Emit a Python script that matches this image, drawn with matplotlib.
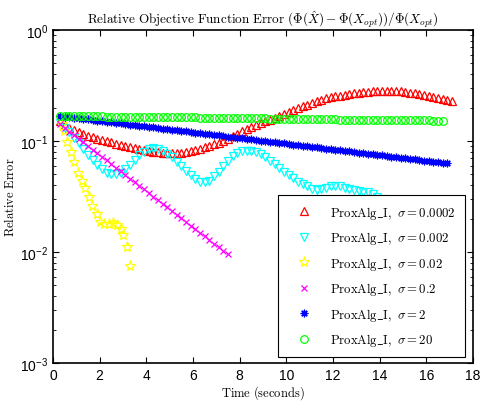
import matplotlib
matplotlib.use('Agg')
import matplotlib.pyplot as plt
from matplotlib.ticker import LogLocator, NullFormatter

plt.rcParams['font.family'] = ['Liberation Sans', 'DejaVu Sans']

# shared time samples (seconds)
t = [0.3, 0.5, 0.7, 0.9, 1.1, 1.3, 1.5, 1.7, 1.9, 2.1, 2.3, 2.5, 2.7, 2.9, 3.1,
     3.3, 3.5, 3.7, 3.9, 4.1, 4.3, 4.5, 4.7, 4.9, 5.1, 5.3, 5.5, 5.7, 5.9, 6.1,
     6.3, 6.5, 6.7, 6.9, 7.1, 7.3, 7.5, 7.7, 7.9, 8.1, 8.3, 8.5, 8.7, 8.9, 9.1,
     9.3, 9.5, 9.7, 9.9, 10.1, 10.3, 10.5, 10.7, 10.9, 11.1, 11.3, 11.5, 11.7,
     11.9, 12.1, 12.3, 12.5, 12.7, 12.9, 13.1, 13.3, 13.5, 13.7, 13.9, 14.1,
     14.3, 14.5, 14.7, 14.9, 15.1, 15.3, 15.5, 15.7, 15.9, 16.1, 16.3, 16.5,
     16.7, 16.9, 17.1]

err_0002 = [0.150, 0.140, 0.132, 0.126, 0.120, 0.116, 0.112, 0.108, 0.105, 0.102,
            0.099, 0.097, 0.094, 0.092, 0.090, 0.088, 0.086, 0.084, 0.083, 0.081,
            0.080, 0.079, 0.0785, 0.078, 0.078, 0.078, 0.078, 0.079, 0.081, 0.083,
            0.085, 0.088, 0.090, 0.093, 0.096, 0.100, 0.105, 0.110, 0.116, 0.122,
            0.128, 0.134, 0.139, 0.144, 0.150, 0.156, 0.162, 0.168, 0.175, 0.183,
            0.191, 0.198, 0.205, 0.213, 0.221, 0.228, 0.236, 0.242, 0.247, 0.252,
            0.256, 0.261, 0.266, 0.270, 0.273, 0.276, 0.279, 0.281, 0.282, 0.283,
            0.284, 0.283, 0.282, 0.280, 0.277, 0.273, 0.269, 0.265, 0.260, 0.255,
            0.251, 0.246, 0.241, 0.236, 0.231]

err_002 = [0.145, 0.132, 0.120, 0.107, 0.095, 0.085, 0.075, 0.067, 0.061, 0.056,
           0.052, 0.050, 0.050, 0.052, 0.056, 0.061, 0.067, 0.074, 0.080, 0.084,
           0.086, 0.085, 0.082, 0.077, 0.071, 0.065, 0.059, 0.054, 0.049, 0.045,
           0.043, 0.0425, 0.044, 0.048, 0.053, 0.059, 0.066, 0.073, 0.078, 0.081,
           0.082, 0.082, 0.080, 0.076, 0.071, 0.066, 0.062, 0.057, 0.053, 0.049,
           0.046, 0.043, 0.041, 0.039, 0.037, 0.0365, 0.037, 0.038, 0.039, 0.0395,
           0.039, 0.038, 0.037, 0.036, 0.0355, 0.035, 0.0345, 0.033, 0.031, 0.030,
           0.029, 0.028, 0.0275, 0.027, 0.0265]

t_02 = [0.37, 0.47, 0.59, 0.77, 0.91, 1.09, 1.23, 1.37, 1.54, 1.69,
        1.87, 2.01, 2.20, 2.41, 2.59, 2.76, 2.90, 3.01, 3.16, 3.30]
err_02 = [0.142, 0.124, 0.0986, 0.079, 0.064, 0.052, 0.044, 0.0375, 0.0316, 0.0261,
          0.022, 0.0188, 0.0179, 0.0179, 0.0182, 0.0175, 0.0161, 0.0142, 0.011, 0.0075]

err_2 = [0.141, 0.131, 0.121, 0.113, 0.105, 0.0970, 0.0900, 0.0835, 0.0775, 0.0719,
         0.0667, 0.0619, 0.0574, 0.0533, 0.0494, 0.0459, 0.0426, 0.0395, 0.0366,
         0.0340, 0.0315, 0.0293, 0.0271, 0.0252, 0.0234, 0.0217, 0.0201, 0.0187,
         0.0173, 0.0161, 0.0149, 0.0138, 0.0128, 0.0119, 0.0110, 0.0102, 0.0095]

err_20 = [0.1680, 0.1660, 0.1640, 0.1621, 0.1602, 0.1583, 0.1564, 0.1546, 0.1528,
          0.1510, 0.1492, 0.1474, 0.1457, 0.1440, 0.1423, 0.1406, 0.1389, 0.1373,
          0.1357, 0.1341, 0.1325, 0.1309, 0.1294, 0.1278, 0.1263, 0.1248, 0.1234,
          0.1219, 0.1205, 0.1191, 0.1177, 0.1163, 0.1149, 0.1135, 0.1122, 0.1109,
          0.1096, 0.1083, 0.1070, 0.1057, 0.1045, 0.1033, 0.1020, 0.1008, 0.0996,
          0.0985, 0.0973, 0.0962, 0.0950, 0.0939, 0.0928, 0.0917, 0.0906, 0.0895,
          0.0885, 0.0874, 0.0864, 0.0854, 0.0844, 0.0834, 0.0824, 0.0814, 0.0805,
          0.0795, 0.0786, 0.0776, 0.0767, 0.0758, 0.0749, 0.0740, 0.0732, 0.0723,
          0.0715, 0.0706, 0.0698, 0.0689, 0.0681, 0.0673, 0.0665, 0.0657, 0.0650,
          0.0642, 0.0634, 0.0627]

err_200 = [0.168, 0.168, 0.168, 0.168, 0.168, 0.167, 0.167, 0.167, 0.167, 0.167,
           0.166, 0.166, 0.166, 0.166, 0.166, 0.165, 0.165, 0.165, 0.165, 0.165,
           0.164, 0.164, 0.164, 0.164, 0.164, 0.163, 0.163, 0.163, 0.163, 0.163,
           0.162, 0.162, 0.162, 0.162, 0.162, 0.161, 0.161, 0.161, 0.161, 0.161,
           0.160, 0.160, 0.160, 0.160, 0.160, 0.159, 0.159, 0.159, 0.159, 0.159,
           0.158, 0.158, 0.158, 0.158, 0.158, 0.157, 0.157, 0.157, 0.157, 0.157,
           0.156, 0.156, 0.156, 0.156, 0.156, 0.155, 0.155, 0.155, 0.155, 0.155,
           0.154, 0.154, 0.154, 0.154, 0.154, 0.153, 0.153, 0.153, 0.153, 0.153,
           0.152, 0.152, 0.152]

labels = ['0.0002', '0.002', '0.02', '0.2', '2', '20']

fig = plt.figure(figsize=(4.84, 4.02), dpi=100)
ax = fig.add_axes([0.1095, 0.0945, 0.8675, 0.8285])

mk = dict(linestyle='none', markerfacecolor='none', markeredgewidth=0.9)
ax.semilogy(t[:len(err_0002)], err_0002, marker='^', color='#ff0000', markersize=5.5,
            label=labels[0], **mk)
ax.semilogy(t[:len(err_002)], err_002, marker='v', color='#00ffff', markersize=5.5,
            label=labels[1], **mk)
ax.semilogy(t_02, err_02, marker='*', color='#ffff00', markersize=8,
            label=labels[2], **mk)
ax.semilogy(t[:len(err_2)], err_2, marker='x', color='#ff00ff', markersize=4.5,
            label=labels[3], **mk)
ax.semilogy(t[:len(err_20)], err_20, marker=(8, 2, 0), color='#0000ff', markersize=5.5,
            label=labels[4], **mk)
ax.semilogy(t[:len(err_200)], err_200, marker='o', color='#00ff00', markersize=5.5,
            label=labels[5], **mk)

ax.set_xlim(0, 18)
ax.set_ylim(1e-3, 1)
ax.set_xticks(range(0, 19, 2))
ax.yaxis.set_minor_locator(LogLocator(base=10, subs=range(2, 10)))
ax.yaxis.set_minor_formatter(NullFormatter())
ax.tick_params(which='both', direction='in', top=True, right=True, labelsize=10)
ax.tick_params(which='major', length=4)
ax.tick_params(which='minor', length=2)
for s in ax.spines.values():
    s.set_linewidth(1.2)

ax.set_title(r'$\mathrm{Relative\ Objective\ Function\ Error}\ '
             r'(\Phi(\hat{X})-\Phi(X_{opt}))/\Phi(X_{opt})$',
             fontsize=9.5, math_fontfamily='cm', pad=5)
ax.set_xlabel(r'$\mathrm{Time\ (seconds)}$', fontsize=9, math_fontfamily='cm',
              labelpad=1)
ax.set_ylabel(r'$\mathrm{Relative\ Error}$', fontsize=9, math_fontfamily='cm',
              labelpad=2)

handles, _ = ax.get_legend_handles_labels()
leg = ax.legend(handles,
                [r'$\mathrm{ProxAlg\_I,}\ \sigma = %s$' % s for s in labels],
                loc='lower right', bbox_to_anchor=(0.981, 0.018), borderaxespad=0,
                numpoints=1, fontsize=9.2, labelspacing=0.66, handlelength=2.7,
                handletextpad=0.7, borderpad=0.7, fancybox=False, framealpha=1,
                edgecolor='k')
leg.get_frame().set_linewidth(0.8)
for txt in leg.get_texts():
    txt.set_math_fontfamily('cm')

fig.savefig('out.png', dpi=100)
